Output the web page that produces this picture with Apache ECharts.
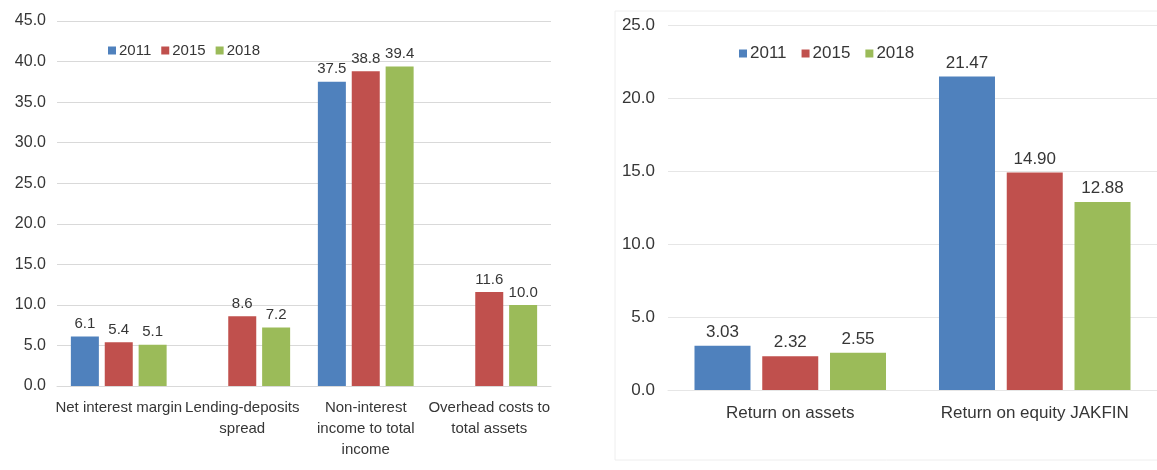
<!DOCTYPE html>
<html>
<head>
<meta charset="utf-8">
<script src="https://cdn.jsdelivr.net/npm/echarts@6/dist/echarts.min.js"></script>
<style>
  html, body { margin: 0; padding: 0; background: #ffffff; }
  #chart { width: 1157px; height: 470px; }
</style>
</head>
<body>
<div id="chart"></div>
<script>
// Banking indicators (left) and profitability ratios (right), 2011 / 2015 / 2018
const years = ['2011', '2015', '2018'];
const colors = ['#4F81BD', '#C0504D', '#9BBB59'];

const leftCategories = [
  'Net interest margin',
  'Lending-deposits\nspread',
  'Non-interest\nincome to total\nincome',
  'Overhead costs to\ntotal assets'
];
const left2011 = [6.1, null, 37.5, null];
const left2015 = [5.4, 8.6, 38.8, 11.6];
const left2018 = [5.1, 7.2, 39.4, 10.0];
const leftTicks = { min: 0, max: 45, interval: 5 };

const rightCategories = ['Return on assets', 'Return on equity JAKFIN'];
const right2011 = [3.03, 21.47];
const right2015 = [2.32, 14.90];
const right2018 = [2.55, 12.88];
const rightTicks = { min: 0, max: 25, interval: 5 };

const FONT = '"Liberation Sans", Arial, sans-serif';
const TEXT = '#363636';

const leftSets = [left2011, left2015, left2018];
const rightSets = [right2011, right2015, right2018];

function barSeries(data, i, axisIndex, digits, fontSize, width, gap) {
  return {
    type: 'bar',
    name: years[i],
    xAxisIndex: axisIndex,
    yAxisIndex: axisIndex,
    data: data,
    barWidth: width,
    barGap: gap,
    itemStyle: { color: colors[i] },
    label: {
      show: true,
      position: 'top',
      distance: 5,
      color: TEXT,
      fontFamily: FONT,
      fontSize: fontSize,
      formatter: p => (p.value == null ? '' : Number(p.value).toFixed(digits))
    },
    emphasis: { disabled: true },
    animation: false
  };
}

const series = [];
leftSets.forEach((d, i) => series.push(barSeries(d, i, 0, 1, 15, 28, '21%')));
rightSets.forEach((d, i) => {
  const s = barSeries(d, i, 1, 2, 17, 56, '21%');
  s.name = years[i] + ' ';
  series.push(s);
});

const chart = echarts.init(document.getElementById('chart'), null, { renderer: 'canvas' });

chart.setOption({
  backgroundColor: '#ffffff',
  animation: false,
  graphic: [
    {
      type: 'rect',
      shape: { x: 615, y: 11, width: 560, height: 449 },
      style: { fill: 'none', stroke: '#eeeeee', lineWidth: 1 },
      silent: true
    }
  ],
  legend: [
    {
      data: years,
      left: 103,
      top: 38,
      icon: 'rect',
      itemWidth: 8,
      itemHeight: 8,
      itemGap: 10,
      textStyle: { color: TEXT, fontFamily: FONT, fontSize: 15, padding: [0, 0, 0, -2] },
      selectedMode: false
    },
    {
      data: years.map(y => y + ' '),
      formatter: n => n.trim(),
      left: 734,
      top: 40,
      icon: 'rect',
      itemWidth: 8,
      itemHeight: 8,
      itemGap: 15,
      textStyle: { color: TEXT, fontFamily: FONT, fontSize: 17, padding: [0, 0, 0, -2] },
      selectedMode: false
    }
  ],
  grid: [
    { left: 57, top: 21, width: 494, height: 365, containLabel: false },
    { left: 668, top: 25, width: 490, height: 365, containLabel: false }
  ],
  xAxis: [
    {
      type: 'category',
      gridIndex: 0,
      data: leftCategories,
      axisLine: { show: true, lineStyle: { color: '#d9d9d9' } },
      axisTick: { show: false },
      axisLabel: {
        interval: 0,
        margin: 11,
        color: TEXT,
        fontFamily: FONT,
        fontSize: 15,
        lineHeight: 21
      }
    },
    {
      type: 'category',
      gridIndex: 1,
      data: rightCategories,
      axisLine: { show: true, lineStyle: { color: '#e6e6e6' } },
      axisTick: { show: false },
      axisLabel: {
        interval: 0,
        margin: 14,
        color: TEXT,
        fontFamily: FONT,
        fontSize: 17,
        lineHeight: 18
      }
    }
  ],
  yAxis: [
    {
      type: 'value',
      gridIndex: 0,
      min: leftTicks.min,
      max: leftTicks.max,
      interval: leftTicks.interval,
      axisLine: { show: false },
      axisTick: { show: false },
      splitLine: { lineStyle: { color: '#d9d9d9' } },
      axisLabel: {
        margin: 11,
        color: TEXT,
        fontFamily: FONT,
        fontSize: 16,
        formatter: v => v.toFixed(1)
      }
    },
    {
      type: 'value',
      gridIndex: 1,
      min: rightTicks.min,
      max: rightTicks.max,
      interval: rightTicks.interval,
      axisLine: { show: false },
      axisTick: { show: false },
      splitLine: { lineStyle: { color: '#e6e6e6' } },
      axisLabel: {
        margin: 13,
        color: TEXT,
        fontFamily: FONT,
        fontSize: 17,
        formatter: v => v.toFixed(1)
      }
    }
  ],
  series: series
});
</script>
</body>
</html>
